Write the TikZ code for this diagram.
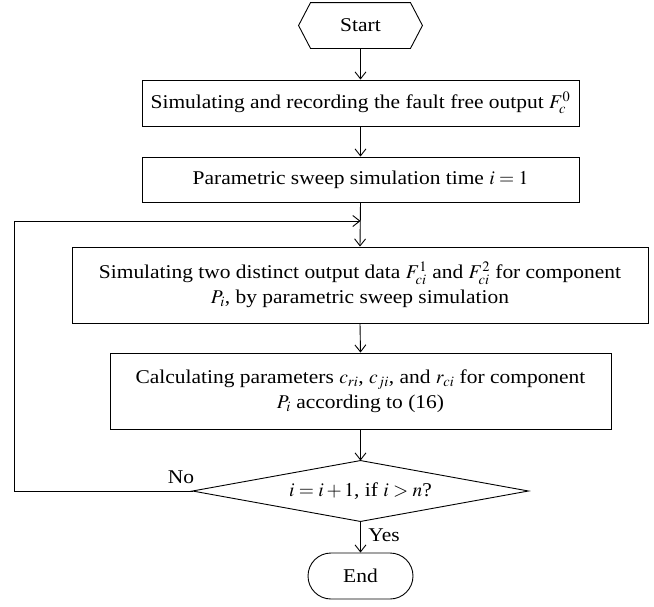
\documentclass[tikz,border=0pt]{standalone}
\usepackage{mathptmx}
\usepackage{fontspec}
\setmainfont{Liberation Serif}[FakeStretch=1.1]
\usetikzlibrary{arrows.meta}
\begin{document}
\begin{tikzpicture}[x=1pt,y=1pt,
  line width=0.9pt,
  arr/.style={-{Straight Barb[length=7pt,width=11pt,line width=0.9pt]}},
  txt/.style={font=\fontsize{19.5}{25}\selectfont, align=center, inner sep=0pt},
  boxnode/.style={txt, draw, rectangle},
  lbl/.style={font=\fontsize{19.5}{25}\selectfont, inner sep=0pt}
]
\useasboundingbox (0,0) rectangle (654,-606);
% start
\node[txt, minimum width=99pt, minimum height=45pt] (start) at (360.5,-25.5) {Start};
\draw (start.north west) -- (start.north east) -- ([xshift=12pt]start.east) -- (start.south east) -- (start.south west) -- ([xshift=-12pt]start.west) -- cycle;
\node[boxnode, minimum width=437pt, minimum height=46pt] (b1) at (360.5,-103) {Simulating and recording the fault free output $F_c^0$};
\node[boxnode, minimum width=437pt, minimum height=45pt] (b2) at (360.5,-179.5) {Parametric sweep simulation time $i = 1$};
\node[boxnode, minimum width=576pt, minimum height=76pt] (b3) at (360,-285) {Simulating two distinct output data $F_{ci}^1$ and $F_{ci}^2$ for component\\$P_i$, by parametric sweep simulation};
\node[boxnode, minimum width=501pt, minimum height=76pt] (b4) at (360.5,-391) {Calculating parameters $c_{ri}$, $c_{ji}$, and $r_{ci}$ for component\\$P_i$ according to (16)};
\node[txt, minimum width=335pt, minimum height=60pt] (dec) at (360.5,-491) {$i = i + 1$, if $i > n$?};
\draw (dec.north) -- (dec.east) -- (dec.south) -- (dec.west) -- cycle;
\node[txt, draw, rectangle, rounded corners=23pt, minimum width=105pt, minimum height=46pt] (end) at (360.5,-576) {End};
\coordinate (join) at (360.5,-221);
\coordinate (lc) at (14,-491);
\draw[arr] (start.south) -- (b1.north);
\draw[arr] (b1.south) -- (b2.north);
\draw[arr] (b2.south) -- (b3.north);
\draw[arr] (b3.south) -- (b4.north);
\draw[arr] (b4.south) -- (dec.north);
\draw[arr] (dec.south) -- (end.north);
\draw[arr] (dec.west) -- (lc) |- (join);
\node[lbl] (no) at (181,-477) {No};
\node[lbl, anchor=west] (yes) at (368,-535) {Yes};
\end{tikzpicture}
\end{document}
